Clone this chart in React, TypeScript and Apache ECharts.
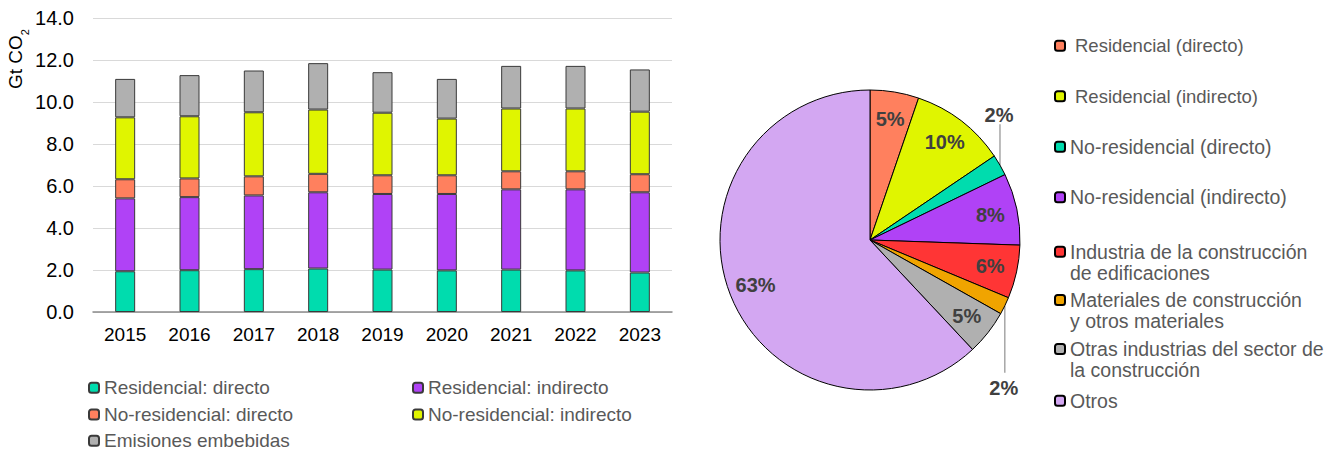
import React, { useEffect, useRef } from "react";
import * as echarts from "echarts";

const years = ["2015", "2016", "2017", "2018", "2019", "2020", "2021", "2022", "2023"];
const resDirecto = [1.94, 1.99, 2.04, 2.07, 2.02, 1.98, 2.02, 1.98, 1.88];
const resIndirecto = [3.47, 3.48, 3.51, 3.63, 3.6, 3.64, 3.82, 3.86, 3.82];
const noResDirecto = [0.91, 0.89, 0.91, 0.88, 0.89, 0.89, 0.86, 0.86, 0.86];
const noResIndirecto = [2.95, 2.96, 3.05, 3.06, 2.98, 2.7, 2.99, 2.99, 2.98];
const embebidas = [1.83, 1.96, 1.99, 2.21, 1.93, 1.89, 2.03, 2.03, 2.01];

const barNames = [
  "Residencial: directo",
  "Residencial: indirecto",
  "No-residencial: directo",
  "No-residencial: indirecto",
  "Emisiones embebidas",
];
const barColors = ["#00DCAE", "#B042F6", "#FF805E", "#E0F500", "#B0B0B0"];

const pieNames = [
  "Residencial (directo)",
  "Residencial (indirecto)",
  "No-residencial (directo)",
  "No-residencial (indirecto)",
  "Industria de la construcción\nde edificaciones",
  "Materiales de construcción\ny otros materiales",
  "Otras industrias del sector de\nla construcción",
  "Otros",
];
const pieValues = [5.3, 10.4, 2.3, 7.8, 5.8, 1.9, 4.9, 62.6];
const pieColors = ["#FF805E", "#E0F500", "#00DCAE", "#B042F6", "#FF3535", "#F0A400", "#B0B0B0", "#D3A7F2"];

const FONT = "'Liberation Sans', Arial, sans-serif";
const PIE_CX = 870;
const PIE_CY = 240;
const PIE_R = 150;

export default function App() {
  const ref = useRef<HTMLDivElement>(null);
  useEffect(() => {
    if (!ref.current) return;
    const chart = echarts.init(ref.current, null, { renderer: "svg" });
    const barSeries = [resDirecto, resIndirecto, noResDirecto, noResIndirecto, embebidas].map((d, i) => ({
      name: barNames[i],
      type: "bar",
      stack: "total",
      barWidth: 20,
      data: d,
      itemStyle: { color: barColors[i], borderColor: "#3A3A3A", borderWidth: 1 },
    }));
    const total = pieValues.reduce((a, b) => a + b, 0);

    const barLegend = (name: string, left: number, top: number) => ({
      orient: "vertical",
      left,
      top,
      padding: 0,
      itemWidth: 10,
      itemHeight: 10,
      selectedMode: false,
      data: [name],
      textStyle: { fontSize: 19, color: "#595959", lineHeight: 16, fontFamily: FONT },
    });

    const pieLegendBase = {
      orient: "vertical",
      left: 1054,
      padding: 0,
      itemWidth: 10,
      itemHeight: 10,
      selectedMode: false,
    };
    const pieText = (size: number) => ({ fontSize: size, color: "#595959", lineHeight: 21, fontFamily: FONT });

    const option = {
      animation: false,
      textStyle: { fontFamily: FONT },
      grid: { left: 93, top: 18, width: 579, height: 294 },
      xAxis: {
        type: "category",
        data: years,
        axisTick: { show: false },
        axisLine: { lineStyle: { color: "#8C8C8C", width: 1.5 } },
        axisLabel: { fontSize: 19, color: "#000", margin: 13, fontFamily: FONT },
      },
      yAxis: {
        type: "value",
        min: 0,
        max: 14,
        interval: 2,
        axisLine: { show: false },
        axisTick: { show: false },
        splitLine: { lineStyle: { color: "#D9D9D9", width: 1 } },
        axisLabel: {
          fontSize: 20,
          color: "#000",
          margin: 19,
          fontFamily: FONT,
          formatter: (v: number) => v.toFixed(1),
        },
      },
      legend: [
        barLegend(barNames[0], 88, 378.3),
        barLegend(barNames[2], 88, 405),
        barLegend(barNames[4], 88, 431.2),
        barLegend(barNames[1], 412, 378.3),
        barLegend(barNames[3], 412, 405),
        {
          ...pieLegendBase,
          top: 35.2,
          itemGap: 29.5,
          data: [pieNames[0], pieNames[1]],
          textStyle: { ...pieText(18.5), padding: [0, 0, 0, 5] },
        },
        { ...pieLegendBase, top: 136.2, itemGap: 29.5, data: [pieNames[2], pieNames[3]], textStyle: pieText(19.5) },
        {
          ...pieLegendBase,
          top: 220.2,
          data: [pieNames[4]],
          textStyle: pieText(19.5),
          formatter: (n: string) => "\n" + n,
        },
        {
          ...pieLegendBase,
          top: 268.5,
          data: [pieNames[5]],
          textStyle: pieText(19.5),
          formatter: (n: string) => "\n" + n,
        },
        {
          ...pieLegendBase,
          top: 317.5,
          data: [pieNames[6]],
          textStyle: pieText(19.5),
          formatter: (n: string) => "\n" + n,
        },
        { ...pieLegendBase, top: 390.2, data: [pieNames[7]], textStyle: pieText(19.5) },
      ],
      graphic: [
        {
          type: "text",
          x: 20,
          y: 59,
          rotation: Math.PI / 2,
          style: {
            text: "{m|Gt CO}{s|2}",
            align: "center",
            verticalAlign: "middle",
            fill: "#000",
            rich: {
              m: { fontSize: 19, fontFamily: FONT, fill: "#000", lineHeight: 20, padding: [0, 0, 5, 0], verticalAlign: "bottom" },
              s: { fontSize: 11, fontFamily: FONT, fill: "#000", lineHeight: 11, verticalAlign: "bottom" },
            },
          },
        },
      ],
      series: [
        ...barSeries,
        {
          name: "Distribución",
          type: "pie",
          center: [PIE_CX, PIE_CY],
          radius: [0, PIE_R],
          startAngle: 90,
          clockwise: true,
          avoidLabelOverlap: false,
          itemStyle: { borderColor: "#000", borderWidth: 1 },
          label: {
            show: true,
            position: "inside",
            color: "#404040",
            fontWeight: "bold",
            fontSize: 20,
            fontFamily: FONT,
            formatter: (p: any) => Math.round(p.value) + "%",
          },
          labelLine: { show: false },
          emphasis: { disabled: true },
          labelLayout: (params: any) => {
            const i = params.dataIndex;
            let cum = 0;
            for (let j = 0; j < i; j++) cum += pieValues[j];
            const mid = ((cum + pieValues[i] / 2) / total) * Math.PI * 2;
            const sx = Math.sin(mid);
            const cy = -Math.cos(mid);
            if (i === 2 || i === 5) {
              const ex = PIE_CX + PIE_R * sx;
              const ey = PIE_CY + PIE_R * cy;
              const up = i === 2;
              const lineEnd = up ? ey - 41 : ey + 67;
              const labelY = up ? ey - 50 : ey + 82;
              return {
                x: ex - 1,
                y: labelY,
                align: "center",
                verticalAlign: "middle",
                labelLinePoints: [
                  [ex, ey],
                  [ex, lineEnd],
                ],
              };
            }
            return {
              x: PIE_CX + 0.82 * PIE_R * sx,
              y: PIE_CY + 0.82 * PIE_R * cy,
              align: "center",
              verticalAlign: "middle",
            };
          },
          data: pieNames.map((n, i) => {
            const outside = i === 2 || i === 5;
            return {
              name: n,
              value: pieValues[i],
              itemStyle: { color: pieColors[i] },
              label: { position: outside ? "outside" : "inside" },
              labelLine: outside
                ? { show: true, length: 10, length2: 0, lineStyle: { color: "#A6A6A6", width: 1.5 } }
                : { show: false },
            };
          }),
        },
      ],
    };
    chart.setOption(option as any);
    return () => chart.dispose();
  }, []);
  return (
    <div
      ref={ref}
      style={{ position: "absolute", left: 0, top: 0, width: 1335, height: 450, background: "#fff" }}
    />
  );
}
